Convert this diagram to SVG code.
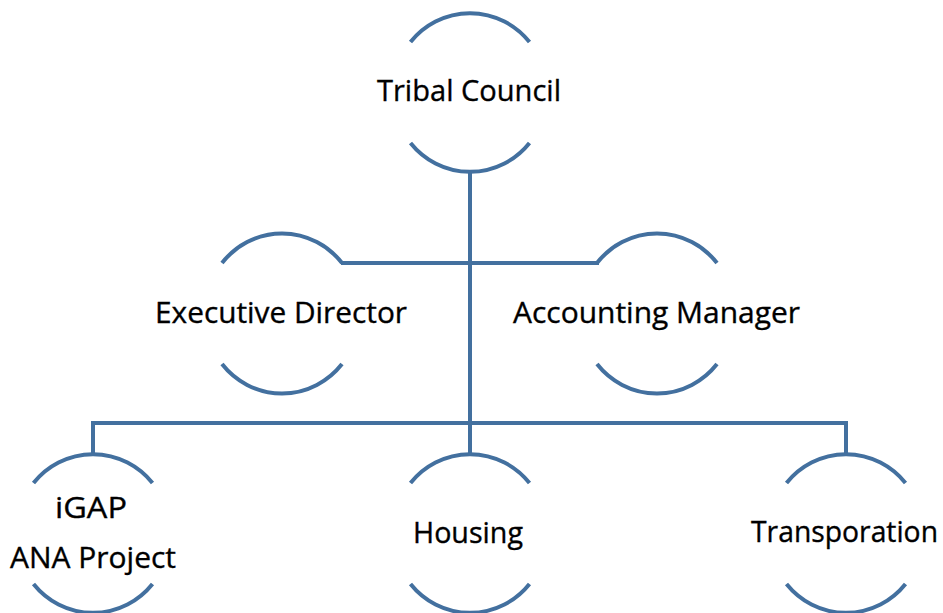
<svg xmlns="http://www.w3.org/2000/svg" width="943" height="613" viewBox="0 0 943 613">
<style>
.arc{fill:none;stroke:#43709F;stroke-width:4;stroke-linecap:butt}
.ln{fill:none;stroke:#43709F;stroke-width:4;stroke-linejoin:miter}
.t{font-family:"Open Sans","Noto Sans","Liberation Sans",sans-serif;font-size:29px;fill:#000;stroke:#000;stroke-width:0.35;text-anchor:middle}
</style>
<rect width="943" height="613" fill="#ffffff"/>
<g id="connectors">
<path class="ln" d="M470,170 V455"/>
<path class="ln" d="M341,263 H599"/>
<path class="ln" d="M93,455 V423 H846 V455"/>
</g>
<g id="tribal-council">
<path class="arc" d="M410.5,42 A77,79 0 0 1 529.5,42"/>
<path class="arc" d="M410.5,143 A77,79 0 0 0 529.5,143"/>
<text class="t" x="469" y="101" textLength="184" lengthAdjust="spacingAndGlyphs">Tribal Council</text>
</g>
<g id="executive-director">
<path class="arc" d="M222,263 A77,79 0 0 1 342,263"/>
<path class="arc" d="M222,364 A77,79 0 0 0 342,364"/>
<text class="t" x="281" y="323" textLength="252" lengthAdjust="spacingAndGlyphs">Executive Director</text>
</g>
<g id="accounting-manager">
<path class="arc" d="M597,263 A77,79 0 0 1 717,263"/>
<path class="arc" d="M597,364 A77,79 0 0 0 717,364"/>
<text class="t" x="656.5" y="323" textLength="287" lengthAdjust="spacingAndGlyphs">Accounting Manager</text>
</g>
<g id="igap-ana-project">
<path class="arc" d="M33.5,483 A77,79 0 0 1 152.5,483"/>
<path class="arc" d="M33.5,584 A77,79 0 0 0 152.5,584"/>
<text class="t" x="91" y="518" textLength="72" lengthAdjust="spacingAndGlyphs">iGAP</text>
<text class="t" x="93" y="568" textLength="166" lengthAdjust="spacingAndGlyphs">ANA Project</text>
</g>
<g id="housing">
<path class="arc" d="M410.5,483 A77,79 0 0 1 529.5,483"/>
<path class="arc" d="M410.5,584 A77,79 0 0 0 529.5,584"/>
<text class="t" x="468" y="543" textLength="110" lengthAdjust="spacingAndGlyphs">Housing</text>
</g>
<g id="transporation">
<path class="arc" d="M786.5,483 A77,79 0 0 1 905.5,483"/>
<path class="arc" d="M786.5,584 A77,79 0 0 0 905.5,584"/>
<text class="t" x="844.5" y="542" textLength="187" lengthAdjust="spacingAndGlyphs">Transporation</text>
</g>
</svg>
